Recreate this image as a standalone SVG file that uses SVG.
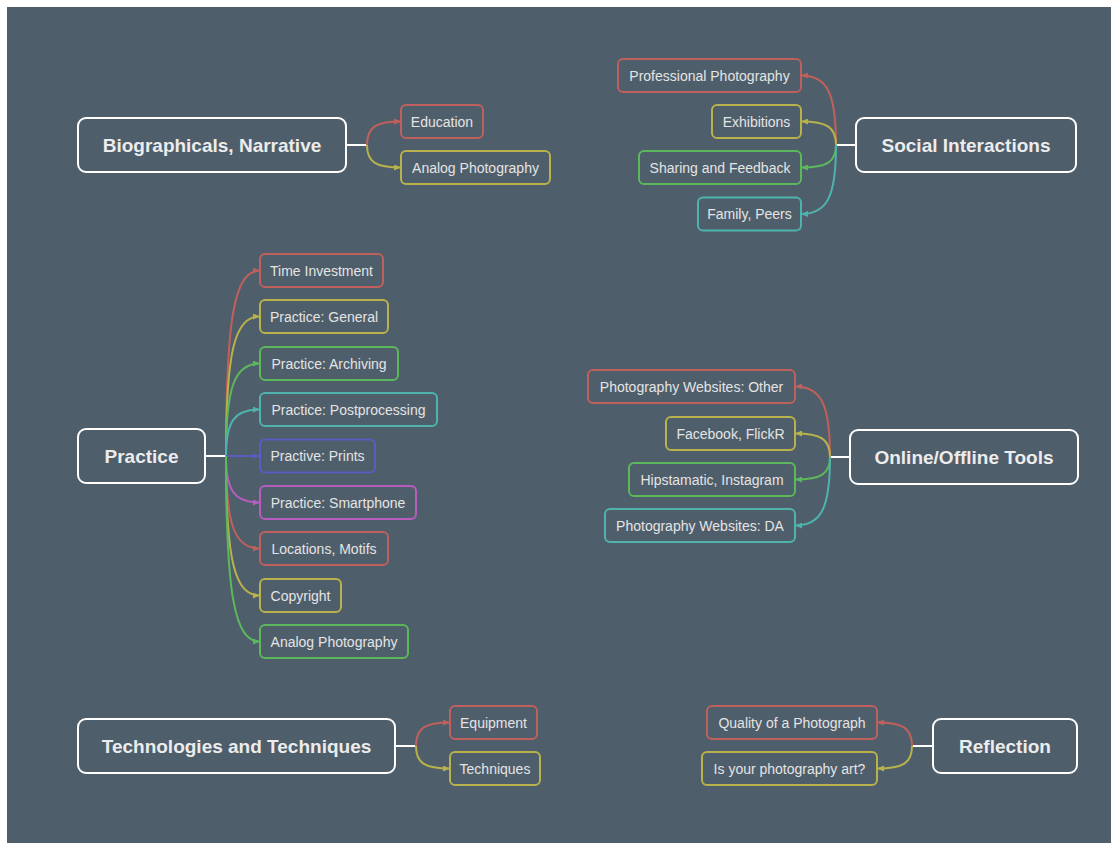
<svg xmlns="http://www.w3.org/2000/svg" width="1116" height="843" viewBox="0 0 1116 843">
<style>
.main rect{fill:none;stroke:#ffffff;stroke-width:2}
.main text{font-family:"Liberation Sans",Arial,Helvetica,sans-serif;font-weight:bold;font-size:19px;fill:#ececec;text-anchor:middle;dominant-baseline:central}
.child rect{fill:none;stroke-width:2}
.child text{font-family:"Liberation Sans",Arial,Helvetica,sans-serif;font-size:14px;fill:#e4e4e4;text-anchor:middle;dominant-baseline:central}
.r rect{stroke:#c0605c}.y rect{stroke:#b8b24c}.g rect{stroke:#5cb85c}.t rect{stroke:#4fb3ad}.b rect{stroke:#5b5bc0}.m rect{stroke:#b95cc0}
#connectors path{fill:none;stroke-width:2}
#connectors .w{stroke:#ffffff}
#connectors .r{stroke:#c0605c;marker-end:url(#ar)}
#connectors .y{stroke:#b8b24c;marker-end:url(#ay)}
#connectors .g{stroke:#5cb85c;marker-end:url(#ag)}
#connectors .t{stroke:#4fb3ad;marker-end:url(#at)}
#connectors .b{stroke:#5b5bc0;marker-end:url(#ab)}
#connectors .m{stroke:#b95cc0;marker-end:url(#am)}
</style>
<defs>
<marker id="ar" markerUnits="userSpaceOnUse" markerWidth="7" markerHeight="6" refX="7" refY="3" orient="auto"><path d="M0,0L7,3L0,6z" fill="#c0605c"/></marker>
<marker id="ay" markerUnits="userSpaceOnUse" markerWidth="7" markerHeight="6" refX="7" refY="3" orient="auto"><path d="M0,0L7,3L0,6z" fill="#b8b24c"/></marker>
<marker id="ag" markerUnits="userSpaceOnUse" markerWidth="7" markerHeight="6" refX="7" refY="3" orient="auto"><path d="M0,0L7,3L0,6z" fill="#5cb85c"/></marker>
<marker id="at" markerUnits="userSpaceOnUse" markerWidth="7" markerHeight="6" refX="7" refY="3" orient="auto"><path d="M0,0L7,3L0,6z" fill="#4fb3ad"/></marker>
<marker id="ab" markerUnits="userSpaceOnUse" markerWidth="7" markerHeight="6" refX="7" refY="3" orient="auto"><path d="M0,0L7,3L0,6z" fill="#5b5bc0"/></marker>
<marker id="am" markerUnits="userSpaceOnUse" markerWidth="7" markerHeight="6" refX="7" refY="3" orient="auto"><path d="M0,0L7,3L0,6z" fill="#b95cc0"/></marker>
</defs>
<rect x="0" y="0" width="1116" height="843" fill="#ffffff"/>
<rect x="7" y="7" width="1104" height="836" fill="#4f5e6b"/>

<g id="connectors">
<path class="w" d="M346,145H367"/>
<path class="r" d="M367,145C367,127.4 375.5,121.5 401,121.5"/>
<path class="y" d="M367,145C367,161.9 375.5,167.5 401,167.5"/>

<path class="w" d="M856,145H836"/>
<path class="r" d="M836,145C836,92.9 827.25,75.5 801,75.5"/>
<path class="y" d="M836,145C836,127.4 827.25,121.5 801,121.5"/>
<path class="g" d="M836,145C836,161.9 827.25,167.5 801,167.5"/>
<path class="t" d="M836,145C836,196.75 827.25,214 801,214"/>

<path class="w" d="M205,456H226"/>
<path class="r" d="M226,456C226,316.9 234.5,270.5 260,270.5"/>
<path class="y" d="M226,456C226,351.4 234.5,316.5 260,316.5"/>
<path class="g" d="M226,456C226,386.6 234.5,363.5 260,363.5"/>
<path class="t" d="M226,456C226,421.1 234.5,409.5 260,409.5"/>
<path class="b" d="M226,456L260,456"/>
<path class="m" d="M226,456C226,490.9 234.5,502.5 260,502.5"/>
<path class="r" d="M226,456C226,525.4 234.5,548.5 260,548.5"/>
<path class="y" d="M226,456C226,560.6 234.5,595.5 260,595.5"/>
<path class="g" d="M226,456C226,595.1 234.5,641.5 260,641.5"/>

<path class="w" d="M850,457H830"/>
<path class="r" d="M830,457C830,404.1 821.25,386.5 795,386.5"/>
<path class="y" d="M830,457C830,439.4 821.25,433.5 795,433.5"/>
<path class="g" d="M830,457C830,473.9 821.25,479.5 795,479.5"/>
<path class="t" d="M830,457C830,508.4 821.25,525.5 795,525.5"/>

<path class="w" d="M395,746H416"/>
<path class="r" d="M416,746C416,728.4 424.5,722.5 450,722.5"/>
<path class="y" d="M416,746C416,762.9 424.5,768.5 450,768.5"/>

<path class="w" d="M933,746H912"/>
<path class="r" d="M912,746C912,728.4 903.25,722.5 877,722.5"/>
<path class="y" d="M912,746C912,762.9 903.25,768.5 877,768.5"/>
</g>

<g id="n-bio" class="main"><rect x="78" y="118" width="268" height="54" rx="8"/><text x="212" y="145">Biographicals, Narrative</text></g>
<g id="n-bio-edu" class="child r"><rect x="401" y="105" width="82" height="33" rx="5"/><text x="442" y="121.5">Education</text></g>
<g id="n-bio-analog" class="child y"><rect x="401" y="151" width="149" height="33" rx="5"/><text x="475.5" y="167.5">Analog Photography</text></g>

<g id="n-social" class="main"><rect x="856" y="118" width="220" height="54" rx="8"/><text x="966" y="145">Social Interactions</text></g>
<g id="n-soc-prof" class="child r"><rect x="618" y="59" width="183" height="33" rx="5"/><text x="709.5" y="75.5">Professional Photography</text></g>
<g id="n-soc-exh" class="child y"><rect x="712" y="105" width="89" height="33" rx="5"/><text x="756.5" y="121.5">Exhibitions</text></g>
<g id="n-soc-share" class="child g"><rect x="639" y="151" width="162" height="33" rx="5"/><text x="720" y="167.5">Sharing and Feedback</text></g>
<g id="n-soc-family" class="child t"><rect x="698" y="197.5" width="103" height="33" rx="5"/><text x="749.5" y="214">Family, Peers</text></g>

<g id="n-practice" class="main"><rect x="78" y="429" width="127" height="54" rx="8"/><text x="141.5" y="456">Practice</text></g>
<g id="n-pr-time" class="child r"><rect x="260" y="254" width="123" height="33" rx="5"/><text x="321.5" y="270.5">Time Investment</text></g>
<g id="n-pr-general" class="child y"><rect x="260" y="300" width="128" height="33" rx="5"/><text x="324" y="316.5">Practice: General</text></g>
<g id="n-pr-arch" class="child g"><rect x="260" y="347" width="138" height="33" rx="5"/><text x="329" y="363.5">Practice: Archiving</text></g>
<g id="n-pr-post" class="child t"><rect x="260" y="393" width="177" height="33" rx="5"/><text x="348.5" y="409.5">Practice: Postprocessing</text></g>
<g id="n-pr-prints" class="child b"><rect x="260" y="439.5" width="115" height="33" rx="5"/><text x="317.5" y="456">Practive: Prints</text></g>
<g id="n-pr-smart" class="child m"><rect x="260" y="486" width="156" height="33" rx="5"/><text x="338" y="502.5">Practice: Smartphone</text></g>
<g id="n-pr-loc" class="child r"><rect x="260" y="532" width="128" height="33" rx="5"/><text x="324" y="548.5">Locations, Motifs</text></g>
<g id="n-pr-copy" class="child y"><rect x="260" y="579" width="81" height="33" rx="5"/><text x="300.5" y="595.5">Copyright</text></g>
<g id="n-pr-analog" class="child g"><rect x="260" y="625" width="148" height="33" rx="5"/><text x="334" y="641.5">Analog Photography</text></g>

<g id="n-online" class="main"><rect x="850" y="430" width="228" height="54" rx="8"/><text x="964" y="457">Online/Offline Tools</text></g>
<g id="n-on-other" class="child r"><rect x="588" y="370" width="207" height="33" rx="5"/><text x="691.5" y="386.5">Photography Websites: Other</text></g>
<g id="n-on-fb" class="child y"><rect x="666" y="417" width="129" height="33" rx="5"/><text x="730.5" y="433.5">Facebook, FlickR</text></g>
<g id="n-on-hip" class="child g"><rect x="629" y="463" width="166" height="33" rx="5"/><text x="712" y="479.5">Hipstamatic, Instagram</text></g>
<g id="n-on-da" class="child t"><rect x="605" y="509" width="190" height="33" rx="5"/><text x="700" y="525.5">Photography Websites: DA</text></g>

<g id="n-tech" class="main"><rect x="78" y="719" width="317" height="54" rx="8"/><text x="236.5" y="746">Technologies and Techniques</text></g>
<g id="n-tech-equip" class="child r"><rect x="450" y="706" width="87" height="33" rx="5"/><text x="493.5" y="722.5">Equipment</text></g>
<g id="n-tech-tech" class="child y"><rect x="450" y="752" width="90" height="33" rx="5"/><text x="495" y="768.5">Techniques</text></g>

<g id="n-refl" class="main"><rect x="933" y="719" width="144" height="54" rx="8"/><text x="1005" y="746">Reflection</text></g>
<g id="n-refl-quality" class="child r"><rect x="707" y="706" width="170" height="33" rx="5"/><text x="792" y="722.5">Quality of a Photograph</text></g>
<g id="n-refl-art" class="child y"><rect x="702" y="752" width="175" height="33" rx="5"/><text x="789.5" y="768.5">Is your photography art?</text></g>
</svg>
